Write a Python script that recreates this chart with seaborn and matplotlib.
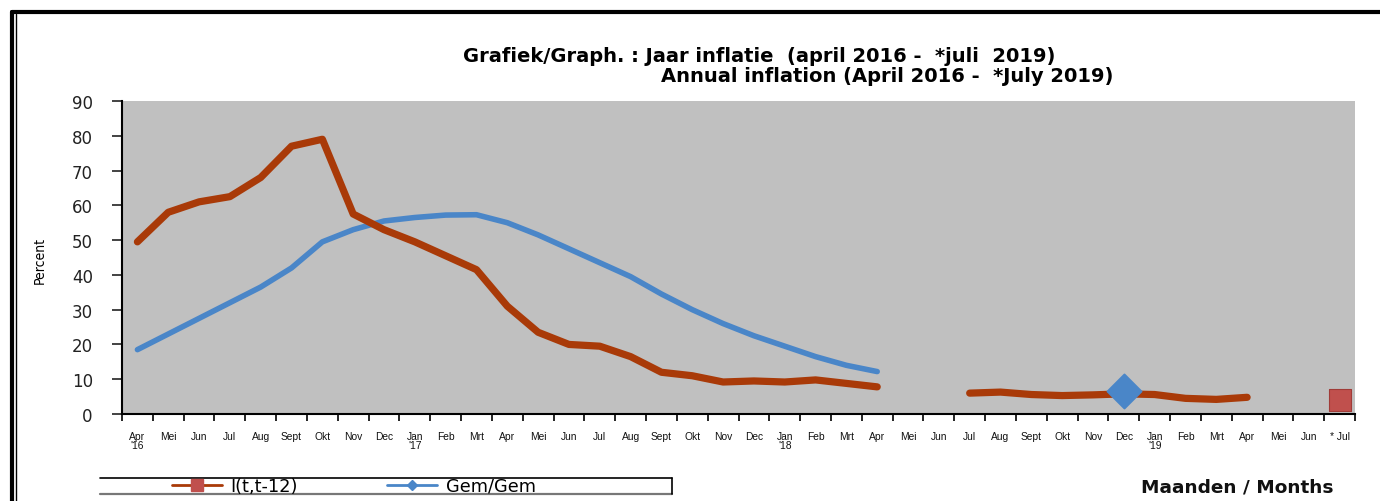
import numpy as np
import pandas as pd
import matplotlib
matplotlib.use("Agg")
import matplotlib.pyplot as plt
import seaborn as sns
from matplotlib.lines import Line2D

# --------------------------------------------------
# Data
# --------------------------------------------------

months = [
    "Apr\n'16", "Mei", "Jun", "Jul", "Aug", "Sept", "Okt", "Nov", "Dec",
    "Jan\n'17", "Feb", "Mrt", "Apr", "Mei", "Jun", "Jul", "Aug", "Sept",
    "Okt", "Nov", "Dec",
    "Jan\n'18", "Feb", "Mrt", "Apr", "Mei", "Jun", "Jul", "Aug", "Sept",
    "Okt", "Nov", "Dec",
    "Jan\n'19", "Feb", "Mrt", "Apr", "Mei", "Jun", "* Jul",
]

# I(t,t-12), first stretch Apr '16 - Apr '18
annual_a = [
    49.5, 58.0, 61.0, 62.5, 68.0, 77.0, 79.0, 57.5, 53.0,
    49.5, 45.5, 41.5, 31.0, 23.5, 20.0, 19.5, 16.5, 12.0,
    11.0, 9.2, 9.5, 9.2, 9.8, 8.8, 7.8,
]
# I(t,t-12), second stretch Jul '18 - Apr '19
annual_b = [6.0, 6.3, 5.6, 5.3, 5.5, 5.8, 5.6, 4.5, 4.2, 4.8]
# I(t,t-12), *Jul '19
annual_jul19 = [4.0]

# Gem/Gem, Apr '16 - Apr '18
average_a = [
    18.5, 23.0, 27.5, 32.0, 36.5, 42.0, 49.5, 53.0, 55.5,
    56.5, 57.2, 57.3, 55.0, 51.5, 47.5, 43.5, 39.5, 34.5,
    30.0, 26.0, 22.5, 19.5, 16.5, 14.0, 12.2,
]
# Gem/Gem, Dec '18
average_dec18 = [6.5]

red_line = "#A93A08"
red_marker = "#C0504D"
blue = "#4A86C8"

# --------------------------------------------------
# Figure
# --------------------------------------------------

sns.set_style("white")
plt.rcParams["font.family"] = ["Liberation Sans", "DejaVu Sans"]
plt.rcParams["text.color"] = "black"
plt.rcParams["xtick.color"] = "black"
plt.rcParams["ytick.color"] = "black"

fig = plt.figure(figsize=(13.8, 5.02), dpi=100)
ax = fig.add_axes([122 / 1380, 1 - 415 / 502, 1233 / 1380, 313 / 502])
ax.set_facecolor("#C0C0C0")

x_all = np.arange(len(months))

seg_a = pd.DataFrame({"x": x_all[:25], "y": annual_a})
seg_b = pd.DataFrame({"x": x_all[27:37], "y": annual_b})
avg = pd.DataFrame({"x": x_all[:25], "y": average_a})

sns.lineplot(data=avg, x="x", y="y", ax=ax, color=blue,
             linewidth=4.0, solid_capstyle="round")
sns.lineplot(data=seg_a, x="x", y="y", ax=ax, color=red_line,
             linewidth=5.2, solid_capstyle="round", solid_joinstyle="round")
sns.lineplot(data=seg_b, x="x", y="y", ax=ax, color=red_line,
             linewidth=5.2, solid_capstyle="round", solid_joinstyle="round")

sns.scatterplot(x=x_all[32:33], y=average_dec18, ax=ax, marker="D",
                s=300, color=blue, edgecolor=blue, zorder=5)
sns.scatterplot(x=x_all[39:40], y=annual_jul19, ax=ax, marker="s",
                s=230, color=red_marker, edgecolor="#A03C38",
                linewidth=0.8, zorder=5)

ax.set_xlim(-0.5, len(months) - 0.5)
ax.set_ylim(0, 90)
ax.set_yticks(range(0, 91, 10))
ax.tick_params(axis="y", labelsize=12, length=7, width=1.2,
               direction="out", left=True, pad=14, colors="#222222")
for lbl in ax.get_yticklabels():
    lbl.set_family("DejaVu Sans")
ax.set_xticks(x_all)
ax.set_xticklabels(months, fontsize=7.4, linespacing=0.85)
ax.tick_params(axis="x", length=0, pad=12.5, colors="#111111")
ax.set_xticks(np.arange(-0.5, len(months), 1), minor=True)
ax.tick_params(axis="x", which="minor", length=5, width=1.2,
               direction="out", bottom=True, color="black")

ax.set_xlabel("")
ax.set_ylabel("")
for side in ["top", "right"]:
    ax.spines[side].set_visible(False)
ax.spines["left"].set_color("black")
ax.spines["left"].set_linewidth(1.5)
ax.spines["bottom"].set_color("black")
ax.spines["bottom"].set_linewidth(1.5)

# --------------------------------------------------
# Texts
# --------------------------------------------------

fig.text(759 / 1380, 1 - 56 / 502,
         "Grafiek/Graph. : Jaar inflatie  (april 2016 -  *juli  2019)",
         ha="center", va="center", fontsize=14, fontweight="bold",
         family="DejaVu Sans", color="black")
fig.text(887 / 1380, 1 - 77 / 502,
         "Annual inflation (April 2016 -  *July 2019)",
         ha="center", va="center", fontsize=14, fontweight="bold",
         family="DejaVu Sans", color="black")
fig.text(40 / 1380, 1 - 260 / 502, "Percent", rotation=90,
         ha="center", va="center", fontsize=10, family="DejaVu Sans",
         stretch="condensed", color="black")
fig.text(1237 / 1380, 1 - 488 / 502, "Maanden / Months",
         ha="center", va="center", fontsize=13.3, fontweight="bold",
         family="DejaVu Sans", color="#111111")

# --------------------------------------------------
# Legend
# --------------------------------------------------

handles = [
    Line2D([], [], color=red_line, linewidth=2, marker="s",
           markersize=9, markerfacecolor=red_marker,
           markeredgecolor=red_marker),
    Line2D([], [], color=blue, linewidth=2, marker="D",
           markersize=5, markerfacecolor=blue, markeredgecolor=blue),
]
leg = fig.legend(handles, ["I(t,t-12)", "Gem/Gem"], ncol=2,
                 loc="center left",
                 bbox_to_anchor=(156 / 1380, 1 - 487 / 502),
                 frameon=False, handlelength=2.8,
                 handletextpad=0.5, columnspacing=5.0,
                 labelcolor="black",
                 prop={"family": "DejaVu Sans", "size": 12.8})

fig.add_artist(Line2D([100 / 1380, 672 / 1380], [1 - 479 / 502] * 2,
                      color="black", linewidth=1.2))
fig.add_artist(Line2D([100 / 1380, 672 / 1380], [1 - 495 / 502] * 2,
                      color="#777777", linewidth=1.6))
fig.add_artist(Line2D([672 / 1380] * 2, [1 - 479 / 502, 1 - 495 / 502],
                      color="black", linewidth=1.2))

# --------------------------------------------------
# Outer border
# --------------------------------------------------

fig.add_artist(Line2D([11.5 / 1380, 1], [1 - 12.5 / 502] * 2,
                      color="black", linewidth=3))
fig.add_artist(Line2D([11.5 / 1380] * 2, [0, 1 - 12.5 / 502],
                      color="black", linewidth=3))
fig.add_artist(Line2D([16 / 1380] * 2, [0, 1 - 15 / 502],
                      color="black", linewidth=1))

fig.savefig("out.png", dpi=100)
